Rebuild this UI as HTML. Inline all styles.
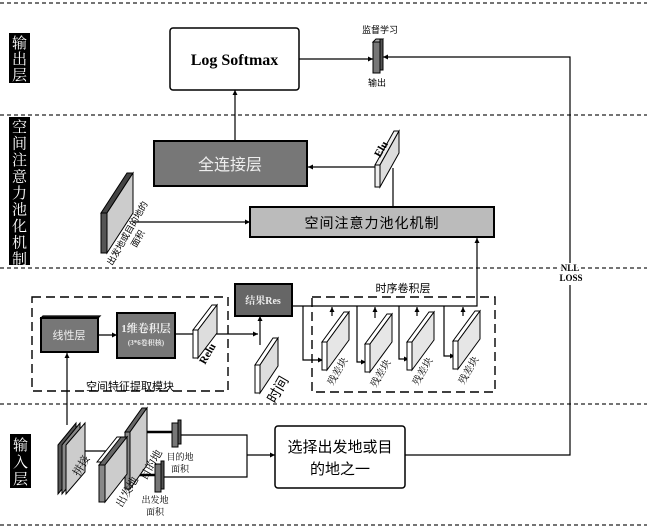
<!DOCTYPE html>
<html><head><meta charset="utf-8"><style>
html,body{margin:0;padding:0;background:#fff}
svg{display:block}
text{font-family:"Liberation Serif","Noto Serif CJK SC","Noto Sans CJK SC",serif}
.s{font-family:"Liberation Sans","Noto Sans CJK SC",sans-serif}
</style></head><body>
<svg width="647" height="528" viewBox="0 0 647 528" xmlns="http://www.w3.org/2000/svg">
<defs>
<marker id="a" markerWidth="6" markerHeight="6" refX="5" refY="3" orient="auto" markerUnits="userSpaceOnUse"><path d="M0,0.5 L5,3 L0,5.5z" fill="#000"/></marker>
</defs>
<g stroke="#222" stroke-width="1.3" stroke-dasharray="4,3">
<line x1="0" y1="3" x2="647" y2="3"/><line x1="0" y1="115" x2="647" y2="115"/>
<line x1="0" y1="268" x2="647" y2="268"/><line x1="0" y1="404" x2="647" y2="404"/>
<line x1="0" y1="525" x2="647" y2="525"/>
</g>
<!-- left labels -->
<rect x="9" y="33" width="21" height="50" fill="#000"/>
<g class="s" fill="#fff" font-size="15" text-anchor="middle">
<text x="19.5" y="48">输</text><text x="19.5" y="64">出</text><text x="19.5" y="80">层</text>
</g>
<rect x="9" y="117" width="21" height="148" fill="#000"/>
<g class="s" fill="#fff" font-size="15" text-anchor="middle">
<text x="19.5" y="132">空</text><text x="19.5" y="148.5">间</text><text x="19.5" y="165">注</text>
<text x="19.5" y="181.5">意</text><text x="19.5" y="198">力</text><text x="19.5" y="214.5">池</text>
<text x="19.5" y="231">化</text><text x="19.5" y="247.5">机</text><text x="19.5" y="264">制</text>
</g>
<rect x="10" y="434" width="21" height="54" fill="#000"/>
<g class="s" fill="#fff" font-size="15" text-anchor="middle">
<text x="20.5" y="450">输</text><text x="20.5" y="467">入</text><text x="20.5" y="484">层</text>
</g>

<g stroke="#000" stroke-width="1.2" fill="none">
<rect x="170" y="28" width="129" height="62" rx="3" fill="#fff" stroke-width="1.5"/>
<line x1="299" y1="59" x2="373" y2="59" marker-end="url(#a)"/>
<polyline points="570,268 570,57 383,57" marker-end="url(#a)"/>
<line x1="235" y1="141" x2="235" y2="90" marker-end="url(#a)"/>
<rect x="154" y="141" width="153" height="45" fill="#777" stroke-width="2"/>
<rect x="250" y="207" width="244" height="30" fill="#bbb" stroke-width="2"/>
<line x1="375" y1="167" x2="308" y2="167" marker-end="url(#a)"/>
<line x1="393" y1="168" x2="393" y2="207"/>
<line x1="133" y1="222" x2="250" y2="222" marker-end="url(#a)"/>
<polyline points="292,306 477,306 477,238" marker-end="url(#a)"/>
<polyline points="570,285 570,455 405,455"/>
<rect x="275" y="426" width="130" height="62" rx="3" fill="#fff" stroke-width="1.5"/>
<rect x="32" y="297" width="196" height="94" stroke-dasharray="9,5" stroke-width="1.4"/>
<rect x="312" y="297" width="183" height="95" stroke-dasharray="9,5" stroke-width="1.4"/>
<line x1="98" y1="335" x2="117" y2="335" marker-end="url(#a)"/>
<line x1="175" y1="334" x2="195" y2="334"/>
<line x1="215" y1="334" x2="258" y2="334" marker-end="url(#a)"/>
<line x1="260" y1="345" x2="260" y2="316" marker-end="url(#a)"/>
<line x1="67" y1="425" x2="67" y2="353" marker-end="url(#a)"/>
<polyline points="303,306 303,360 323,360" marker-end="url(#a)"/>
<polyline points="357,306 357,362 366,362" marker-end="url(#a)"/>
<polyline points="399,306 399,359 409,359" marker-end="url(#a)"/>
<polyline points="444,306 444,356 455,356" marker-end="url(#a)"/>
<line x1="332" y1="316" x2="332" y2="307" marker-end="url(#a)"/>
<line x1="375" y1="318" x2="375" y2="307" marker-end="url(#a)"/>
<line x1="417" y1="316" x2="417" y2="307" marker-end="url(#a)"/>
<line x1="463" y1="316" x2="463" y2="307" marker-end="url(#a)"/>
<polyline points="180,435 247,435 247,477 162,477"/>
<line x1="247" y1="455" x2="275" y2="455" marker-end="url(#a)"/>
<line x1="172" y1="432" x2="137" y2="432" stroke-width="2.5" marker-end="url(#a)"/>
<line x1="155" y1="475" x2="117" y2="475" stroke-width="2.5" marker-end="url(#a)"/>
<line x1="110" y1="451" x2="76" y2="451" marker-end="url(#a)"/>
</g>

<g stroke="#000" stroke-width="1.2">
<polygon points="41,318 98,318 100,316 43,316" fill="#333"/>
<rect x="41" y="318" width="57" height="34" fill="#777" stroke-width="2"/>
<rect x="117" y="313" width="58" height="45" fill="#777" stroke-width="2"/>
<rect x="235" y="284" width="57" height="32" fill="#666" stroke-width="2"/>
</g>

<g stroke="#000" stroke-width="1">
<polygon points="375,165 380,165 399,131 394,131" fill="#eee"/>
<polygon points="380,165 399,131 399,153 380,187" fill="#ddd"/>
<rect x="375" y="165" width="5" height="22" fill="#eee"/>
<polygon points="101,213 107,213 133,173 127,173" fill="#444"/>
<polygon points="107,213 133,173 133,213 107,253" fill="#ccc"/>
<rect x="101" y="213" width="6" height="40" fill="#555"/>
<polygon points="193,330 198,330 217,305 212,305" fill="#fff"/>
<polygon points="198,330 217,305 217,333 198,358" fill="#ddd"/>
<rect x="193" y="330" width="5" height="28" fill="#fff"/>
<polygon points="255,365 260,365 278,338 273,338" fill="#fff"/>
<polygon points="260,365 278,338 278,366 260,393" fill="#ddd"/>
<rect x="255" y="365" width="5" height="28" fill="#fff"/>
<g id="rb">
<polygon points="322,342 327,342 349,312 344,312" fill="#fff"/>
<polygon points="327,342 349,312 349,340 327,370" fill="#e6e6e6"/>
<rect x="322" y="342" width="5" height="28" fill="#fff"/>
</g>
<use href="#rb" x="43" y="2"/>
<use href="#rb" x="85" y="0"/>
<use href="#rb" x="131" y="-1"/>
<rect x="373" y="42" width="7" height="31" fill="#777"/>
<polygon points="373,42 380,42 383,39 376,39" fill="#aaa"/>
<rect x="380" y="39" width="3" height="31" fill="#555"/>
<polygon points="58,445 76,423 76,472 58,494" fill="#555"/>
<polygon points="62,445 80,423 80,472 62,494" fill="#888"/>
<polygon points="66,445 85,423 85,472 66,494" fill="#ccc"/>
<polygon points="125,432 130,432 147,408 142,408" fill="#666"/>
<polygon points="130,432 147,408 147,465 130,489" fill="#ccc"/>
<rect x="125" y="432" width="5" height="57" fill="#888"/>
<polygon points="97,462 117,437 127,437 107,462" fill="#fff"/>
<polygon points="99,465 105,465 127,437 121,437" fill="#666"/>
<polygon points="105,465 127,437 127,474 105,502" fill="#ccc"/>
<rect x="99" y="465" width="6" height="37" fill="#888"/>
<rect x="172" y="423" width="6" height="24" fill="#777"/>
<rect x="178" y="420" width="3" height="24" fill="#555"/>
<rect x="155" y="464" width="6" height="28" fill="#777"/>
<rect x="161" y="461" width="3" height="28" fill="#555"/>
</g>

<text x="234.5" y="65" font-size="16" font-weight="bold" text-anchor="middle">Log Softmax</text>
<text x="380" y="33" font-size="9" text-anchor="middle" class="s">监督学习</text>
<text x="377" y="86" font-size="9" text-anchor="middle" class="s">输出</text>
<text class="s" x="230" y="170" font-size="16" fill="#eee" text-anchor="middle">全连接层</text>
<text class="s" x="372" y="228" font-size="14" text-anchor="middle" letter-spacing="1">空间注意力池化机制</text>
<text x="570" y="271" font-size="9" font-weight="bold" text-anchor="middle" fill="#000" stroke="#fff" stroke-width="3" paint-order="stroke">NLL</text>
<text x="571" y="281" font-size="9" font-weight="bold" text-anchor="middle">LOSS</text>
<text x="380" y="158" font-size="11" font-weight="bold" transform="rotate(-60 380 158)">Elu</text>
<text x="112" y="266" font-size="9" class="s" transform="rotate(-60 112 266)">出发地或目的地的</text>
<text x="136" y="248" font-size="9" class="s" transform="rotate(-60 136 248)">面积</text>
<text class="s" x="69" y="339" font-size="11" fill="#eee" text-anchor="middle">线性层</text>
<text x="146" y="332" font-size="11" font-weight="bold" fill="#eee" text-anchor="middle">1维卷积层</text>
<text x="146" y="345" font-size="7" font-weight="bold" fill="#eee" text-anchor="middle">(3*6卷积核)</text>
<text x="263" y="304" font-size="10" font-weight="bold" fill="#eee" text-anchor="middle">结果Res</text>
<text x="205" y="365" font-size="11" font-weight="bold" transform="rotate(-60 205 365)">Relu</text>
<text class="s" x="275" y="404" font-size="14" transform="rotate(-60 275 404)">时间</text>
<text class="s" x="130" y="390" font-size="11" text-anchor="middle">空间特征提取模块</text>
<text class="s" x="403" y="292" font-size="11" text-anchor="middle">时序卷积层</text>
<g font-size="10" class="s">
<text x="333" y="386" transform="rotate(-60 333 386)">残差块</text>
<text x="376" y="388" transform="rotate(-60 376 388)">残差块</text>
<text x="418" y="386" transform="rotate(-60 418 386)">残差块</text>
<text x="464" y="385" transform="rotate(-60 464 385)">残差块</text>
<text x="79" y="477" font-size="11" transform="rotate(-60 79 477)">拼接</text>
<text x="146" y="481" font-size="11" transform="rotate(-60 146 481)">目的地</text>
<text x="122" y="508" font-size="11" transform="rotate(-60 122 508)">出发地</text>
<text x="180" y="460" font-size="9" text-anchor="middle">目的地</text>
<text x="180" y="472" font-size="9" text-anchor="middle">面积</text>
<text x="155" y="503" font-size="9" text-anchor="middle">出发地</text>
<text x="155" y="515" font-size="9" text-anchor="middle">面积</text>
</g>
<text class="s" x="340" y="452" font-size="15" text-anchor="middle">选择出发地或目</text>
<text class="s" x="340" y="474" font-size="15" text-anchor="middle">的地之一</text>
</svg>
</body></html>
